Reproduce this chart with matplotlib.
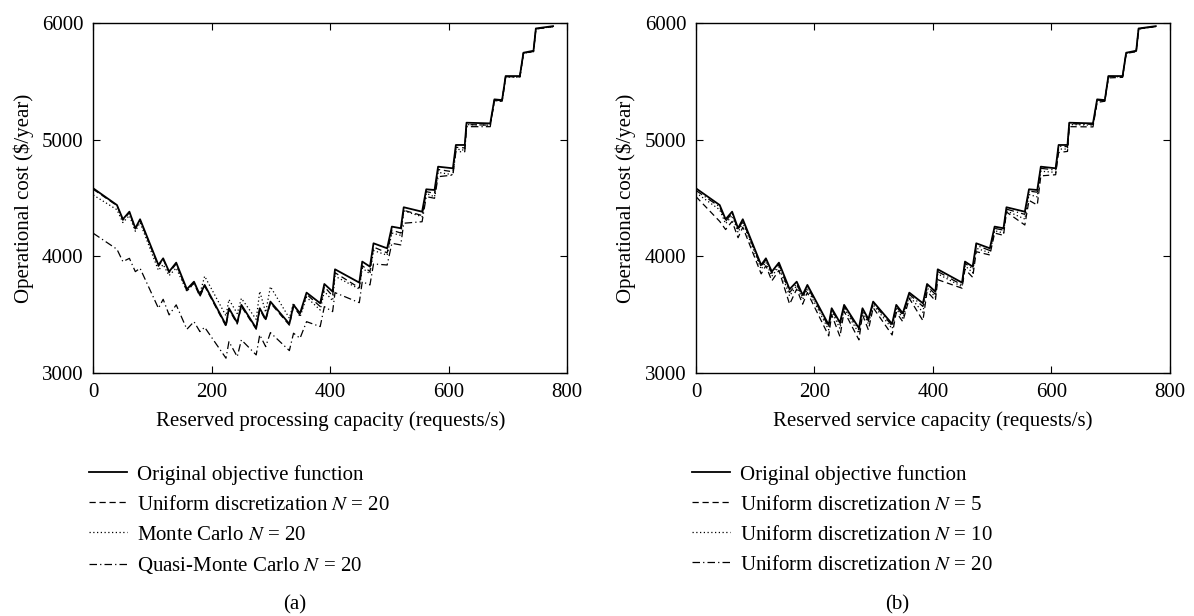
import numpy as np
import matplotlib
matplotlib.use("Agg")
import matplotlib.pyplot as plt

plt.rcParams['font.family'] = ['Liberation Serif', 'DejaVu Serif']
plt.rcParams['mathtext.fontset'] = 'stix'

# reserved capacity (requests/s), shared by all curves
capacity = [0, 40, 50, 61, 71, 79, 110, 118, 128, 140, 158, 170, 180, 188,
            224, 229, 243, 250, 275, 281, 291, 299, 331, 338, 349, 360,
            383, 390, 404, 408, 449, 454, 467, 473, 496, 504, 519, 524,
            555, 562, 576, 582, 607, 612, 627, 630, 670, 677, 690, 696,
            720, 726, 743, 747, 776]

original = [4583, 4440, 4318, 4383, 4241, 4318, 3926, 3983, 3869, 3946, 3718, 3783, 3669, 3755,
            3412, 3555, 3432, 3584, 3384, 3555, 3461, 3612, 3421, 3584, 3512, 3689,
            3598, 3763, 3698, 3889, 3775, 3955, 3912, 4112, 4069, 4255, 4241, 4421,
            4383, 4575, 4569, 4769, 4755, 4955, 4955, 5146, 5140, 5346, 5340, 5546,
            5546, 5746, 5763, 5954, 5974]

# panel (a)
uniform20_a = [4575, 4435, 4310, 4375, 4235, 4310, 3915, 3975, 3860, 3935, 3705, 3770, 3655, 3745,
               3400, 3545, 3420, 3570, 3375, 3545, 3450, 3600, 3410, 3570, 3495, 3675,
               3570, 3740, 3660, 3860, 3730, 3920, 3870, 4080, 4030, 4225, 4200, 4395,
               4350, 4555, 4540, 4745, 4725, 4935, 4930, 5130, 5125, 5335, 5330, 5540,
               5540, 5742, 5758, 5950, 5970]
monte_carlo = [4526, 4400, 4290, 4350, 4215, 4290, 3880, 3930, 3835, 3900, 3700, 3770, 3680, 3830,
               3490, 3630, 3510, 3640, 3460, 3700, 3520, 3740, 3470, 3600, 3480, 3650,
               3540, 3700, 3620, 3830, 3720, 3900, 3850, 4050, 4010, 4200, 4180, 4390,
               4340, 4540, 4510, 4720, 4700, 4920, 4910, 5130, 5125, 5335, 5330, 5540,
               5535, 5740, 5755, 5950, 5970]
quasi_mc = [4198, 4061, 3955, 3983, 3869, 3898, 3555, 3632, 3498, 3584, 3375, 3440, 3355, 3392,
            3127, 3269, 3140, 3284, 3155, 3327, 3226, 3346, 3192, 3341, 3298, 3440,
            3398, 3569, 3526, 3689, 3603, 3783, 3755, 3935, 3926, 4112, 4098, 4284,
            4297, 4512, 4498, 4683, 4697, 4897, 4897, 5112, 5112, 5340, 5335, 5540,
            5540, 5740, 5758, 5950, 5970]

# panel (b)
uniform5_b = [4512, 4300, 4230, 4300, 4160, 4250, 3850, 3920, 3790, 3880, 3590, 3720, 3590, 3690,
              3318, 3500, 3312, 3530, 3284, 3500, 3369, 3560, 3326, 3520, 3440, 3640,
              3449, 3700, 3620, 3800, 3727, 3890, 3820, 4040, 4012, 4200, 4180, 4380,
              4269, 4480, 4440, 4690, 4700, 4890, 4900, 5112, 5110, 5320, 5330, 5530,
              5535, 5740, 5755, 5950, 5970]
uniform10_b = [4545, 4400, 4280, 4350, 4205, 4290, 3890, 3950, 3830, 3910, 3660, 3750, 3630, 3720,
               3370, 3530, 3380, 3555, 3340, 3530, 3420, 3585, 3380, 3550, 3470, 3660,
               3520, 3730, 3650, 3850, 3740, 3920, 3860, 4070, 4030, 4220, 4200, 4390,
               4320, 4530, 4510, 4730, 4720, 4920, 4920, 5130, 5125, 5335, 5335, 5540,
               5540, 5742, 5758, 5950, 5970]
uniform20_b = [4565, 4425, 4300, 4370, 4225, 4305, 3910, 3970, 3855, 3930, 3690, 3765, 3650, 3740,
               3395, 3545, 3415, 3570, 3370, 3545, 3445, 3600, 3405, 3570, 3495, 3675,
               3570, 3745, 3675, 3870, 3755, 3940, 3895, 4095, 4050, 4240, 4225, 4405,
               4360, 4560, 4550, 4755, 4740, 4945, 4940, 5138, 5132, 5340, 5335, 5542,
               5542, 5744, 5760, 5952, 5972]

labels_a = ["Original objective function", "Uniform discretization $N$ = 20",
            "Monte Carlo $N$ = 20", "Quasi-Monte Carlo $N$ = 20"]
labels_b = ["Original objective function", "Uniform discretization $N$ = 5",
            "Uniform discretization $N$ = 10", "Uniform discretization $N$ = 20"]

fs = 15

fig = plt.figure(figsize=(11.94, 6.16), dpi=100)
ax1 = fig.add_axes([0.0781, 0.3945, 0.397, 0.568])
ax2 = fig.add_axes([0.5829, 0.3945, 0.397, 0.568])

styles = [dict(ls='-', lw=1.3), dict(ls=(0, (5, 3)), lw=0.9),
          dict(ls=(0, (1, 2)), lw=0.9), dict(ls=(0, (6, 2.5, 1, 2.5)), lw=0.9)]


def draw(ax, series, labels, xlabel):
    for y, lab, st in zip(series, labels, styles):
        ax.plot(capacity, y, color='black', label=lab, **st)
    ax.set_xlim(0, 800)
    ax.set_ylim(3000, 6000)
    ax.set_xticks([0, 200, 400, 600, 800])
    ax.set_yticks([3000, 4000, 5000, 6000])
    ax.tick_params(direction='in', length=5, width=0.8, top=True, right=True,
                   labelsize=fs, pad=7)
    for sp in ax.spines.values():
        sp.set_linewidth(1.0)
    ax.set_xlabel(xlabel, fontsize=fs, labelpad=7)
    ax.set_ylabel("Operational cost ($/year)", fontsize=fs, labelpad=6)
    ax.legend(loc='upper left', bbox_to_anchor=(-0.008, -0.262), frameon=False,
              fontsize=fs, handlelength=1.8, handletextpad=0.5,
              labelspacing=0.5, borderpad=0, borderaxespad=0)


draw(ax1, [original, uniform20_a, monte_carlo, quasi_mc], labels_a,
     "Reserved processing capacity (requests/s)")
draw(ax2, [original, uniform5_b, uniform10_b, uniform20_b], labels_b,
     "Reserved service capacity (requests/s)")

fig.text(295 / 1194, 1 - 605 / 616, "(a)", ha='center', va='center', fontsize=fs)
fig.text(897 / 1194, 1 - 605 / 616, "(b)", ha='center', va='center', fontsize=fs)

fig.savefig("out.png", dpi=100)
